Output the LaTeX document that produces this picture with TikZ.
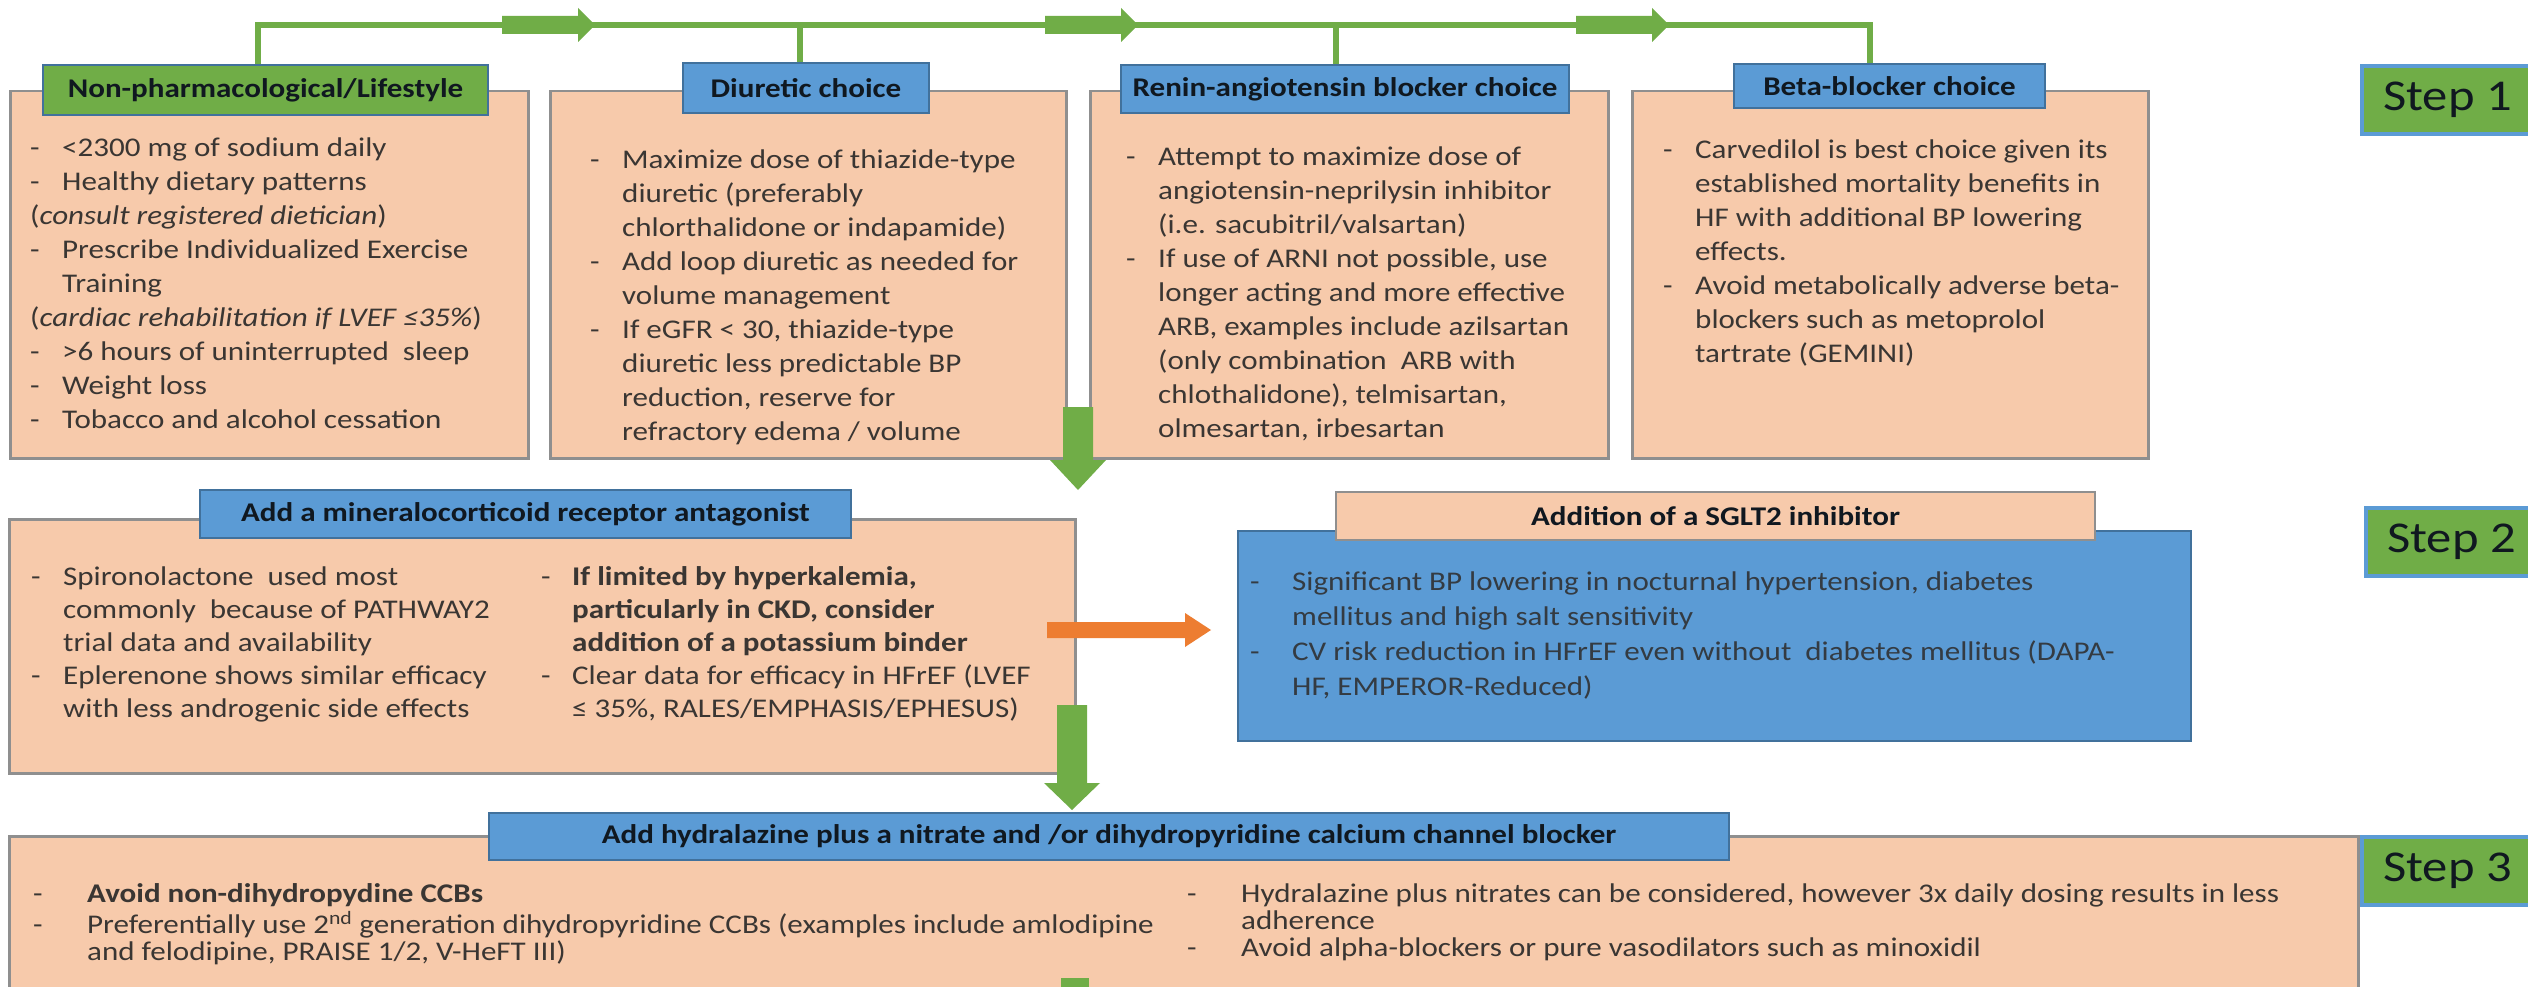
\documentclass[tikz,border=0pt]{standalone}
\usepackage{fontspec}
\setmainfont{Carlito}[FakeStretch=1.15]
\definecolor{peach}{HTML}{F7CAAB}
\definecolor{lblue}{HTML}{5B9BD5}
\definecolor{lbdark}{HTML}{41719C}
\definecolor{lgreen}{HTML}{70AD47}
\definecolor{orng}{HTML}{ED7D31}
\definecolor{bgray}{HTML}{8F8F8F}
\definecolor{txtc}{HTML}{3A3633}
\definecolor{labtxt}{HTML}{101820}
\newcommand{\dsh}[1][32pt]{\makebox[#1][l]{-}}
\newcommand{\ind}[1][32pt]{\hspace*{#1}}
\begin{document}
\begin{tikzpicture}[x=1pt,y=-1pt,
  pbox/.style={draw=bgray, line width=2.5pt, fill=peach, anchor=north west, inner sep=0pt},
  lab/.style={draw=lbdark, line width=1.2pt, fill=lblue, inner sep=0pt, font=\bfseries\fontsize{27}{30}\selectfont, text=labtxt},
  body/.style={anchor=north west, inner sep=0pt, align=left, text=txtc, font=\fontsize{27}{34}\selectfont},
  bodytwo/.style={body, font=\fontsize{27}{33}\selectfont},
  bodythree/.style={body, font=\fontsize{27}{27}\selectfont},
  gline/.style={draw=lgreen, line width=6pt},
  stepbox/.style={draw=lblue, line width=4pt, fill=lgreen, anchor=north west, inner sep=0pt, minimum width=200pt, minimum height=68pt},
  steptxt/.style={anchor=west, inner sep=0pt, font=\fontsize{44}{50}\selectfont, text=labtxt}
]
\useasboundingbox (0,0) rectangle (2528,987);
\fill[white] (0,0) rectangle (2528,987);

% ---------- Row 1 boxes ----------
\node[pbox, minimum width=518pt, minimum height=367pt] (boxA) at (9,90) {};
\node[pbox, minimum width=516pt, minimum height=367pt] (boxB) at (549,90) {};
\node[pbox, minimum width=518pt, minimum height=367pt] (boxC) at (1089,90) {};
\node[pbox, minimum width=516pt, minimum height=367pt] (boxD) at (1631,90) {};

\node[lab, fill=lgreen, minimum width=445pt, minimum height=50pt] (labA) at (265.5,90) {Non-pharmacological/Lifestyle};
\node[lab, minimum width=246pt, minimum height=50pt] (labB) at (806,88) {Diuretic choice};
\node[lab, minimum width=448pt, minimum height=48pt] (labC) at (1345,89) {Renin-angiotensin blocker choice};
\node[lab, minimum width=311pt, minimum height=44pt] (labD) at (1889.5,86) {Beta-blocker choice};

% ---------- top connector ----------
\coordinate (topy) at (0,25);
\coordinate (cA) at ([xshift=-8pt]labA.north);
\coordinate (cB) at ([xshift=-6pt]labB.north);
\coordinate (cC) at ([xshift=-9pt]labC.north);
\coordinate (cD) at ([xshift=-20pt]labD.north);
\draw[gline] (cA) -- (cA |- topy) -- (cD |- topy) -- (cD);
\draw[gline] (cB) -- (cB |- topy);
\draw[gline] (cC) -- (cC |- topy);
\foreach \xo/\nm in {502/ba1,1045/ba2,1576/ba3}{
  \coordinate (\nm) at (\xo,25);
  \fill[lgreen] (\xo,16) -- (\xo+76,16) -- (\xo+76,8) -- (\xo+93,25) -- (\xo+76,42) -- (\xo+76,34) -- (\xo,34) -- cycle;
}

% ---------- Row 1 texts ----------
\node[body] (tA) at (30,132) {\strut\dsh <2300 mg of sodium daily\\
\dsh Healthy dietary patterns\\
(\textit{consult registered dietician})\\
\dsh Prescribe Individualized Exercise\\
\ind Training\\
(\textit{cardiac rehabilitation if LVEF ≤35\%})\\
\dsh >6 hours of uninterrupted\ \ sleep\\
\dsh Weight loss\\
\dsh Tobacco and alcohol cessation};

\node[body] (tB) at (590,144) {\strut\dsh Maximize dose of thiazide-type\\
\ind diuretic (preferably\\
\ind chlorthalidone or indapamide)\\
\dsh Add loop diuretic as needed for\\
\ind volume management\\
\dsh If eGFR < 30, thiazide-type\\
\ind diuretic less predictable BP\\
\ind reduction, reserve for\\
\ind refractory edema / volume};

\node[body] (tC) at (1126,141) {\strut\dsh Attempt to maximize dose of\\
\ind angiotensin-neprilysin inhibitor\\
\ind (i.e. sacubitril/valsartan)\\
\dsh If use of ARNI not possible, use\\
\ind longer acting and more effective\\
\ind ARB, examples include azilsartan\\
\ind (only combination\ \ ARB with\\
\ind chlothalidone), telmisartan,\\
\ind olmesartan, irbesartan};

\node[body] (tD) at (1663,134) {\strut\dsh Carvedilol is best choice given its\\
\ind established mortality benefits in\\
\ind HF with additional BP lowering\\
\ind effects.\\
\dsh Avoid metabolically adverse beta-\\
\ind blockers such as metoprolol\\
\ind tartrate (GEMINI)};

% ---------- Row 2 ----------
\node[pbox, minimum width=1066pt, minimum height=254pt] (mra) at (8,518) {};
\node[lab, minimum width=651pt, minimum height=48pt] (labM) at (525.5,514) {Add a mineralocorticoid receptor antagonist};
\node[bodytwo] (tM1) at (31,562) {\strut\dsh Spironolactone\ \ used most\\
\ind commonly\ \ because of PATHWAY2\\
\ind trial data and availability\\
\dsh Eplerenone shows similar efficacy\\
\ind with less androgenic side effects};
\node[bodytwo] (tM2) at (541,562) {\strut\dsh[31pt]\textbf{If limited by hyperkalemia,}\\
\ind[31pt]\textbf{particularly in CKD, consider}\\
\ind[31pt]\textbf{addition of a potassium binder}\\
\dsh[31pt]Clear data for efficacy in HFrEF (LVEF\\
\ind[31pt]≤ 35\%, RALES/EMPHASIS/EPHESUS)};

\node[draw=lbdark, line width=1.5pt, fill=lblue, anchor=north west, inner sep=0pt, minimum width=953pt, minimum height=210pt] (sglt) at (1237,530) {};
\node[lab, fill=peach, draw=bgray, minimum width=759pt, minimum height=48pt] (labS) at (1715.5,516) {Addition of a SGLT2 inhibitor};
\node[body, font=\fontsize{27}{35}\selectfont, text=labtxt!85] (tS) at (1250,566) {\strut\dsh[42pt]Significant BP lowering in nocturnal hypertension, diabetes\\
\ind[42pt]mellitus and high salt sensitivity\\
\dsh[42pt]CV risk reduction in HFrEF even without\ \ diabetes mellitus (DAPA-\\
\ind[42pt]HF, EMPEROR-Reduced)};

% orange arrow MRA -> SGLT2
\coordinate (oa) at (1047,630);
\fill[orng] (1047,622) -- (1185,622) -- (1185,613) -- (1211,630) -- (1185,647) -- (1185,638) -- (1047,638) -- cycle;

% green arrow row 1 -> row 2
\coordinate (da1) at (1078,407);
\fill[lgreen] (1063,407) -- (1093,407) -- (1093,460) -- (1106,460) -- (1078,490) -- (1050,460) -- (1063,460) -- cycle;

% ---------- Row 3 ----------
\node[pbox, minimum width=2349pt, minimum height=200pt] (row3) at (8,835) {};
\node[lab, minimum width=1240pt, minimum height=47pt, font=\bfseries\fontsize{27}{30}\selectfont] (labR) at (1109,836.5) {Add hydralazine plus a nitrate and /or dihydropyridine calcium channel blocker};
\node[bodythree] (tR1) at (33,883) {\strut\dsh[54pt]\textbf{Avoid non-dihydropydine CCBs}\\
\dsh[54pt]Preferentially use 2\textsuperscript{nd} generation dihydropyridine CCBs (examples include amlodipine\\
\ind[54pt]and felodipine, PRAISE 1/2, V-HeFT III)};
\node[bodythree] (tR2) at (1187,883) {\strut\dsh[54pt]Hydralazine plus nitrates can be considered, however 3x daily dosing results in less\\
\ind[54pt]adherence\\
\dsh[54pt]Avoid alpha-blockers or pure vasodilators such as minoxidil};

% green arrow row 2 -> row 3
\coordinate (da2) at (1072,705);
\fill[lgreen] (1057,705) -- (1087,705) -- (1087,783) -- (1100,783) -- (1072,810) -- (1044,783) -- (1057,783) -- cycle;
% stub of next arrow at bottom edge
\coordinate (da3) at (1075,978);
\fill[lgreen] (1061,978) rectangle (1089,990);

% ---------- Steps ----------
\node[stepbox] (s1) at (2360,64) {};
\node[steptxt] (s1t) at ([xshift=23pt]s1.west) {Step 1};
\node[stepbox] (s2) at (2364,506) {};
\node[steptxt] (s2t) at ([xshift=23pt]s2.west) {Step 2};
\node[stepbox] (s3) at (2360,835) {};
\node[steptxt] (s3t) at ([xshift=23pt]s3.west) {Step 3};
\end{tikzpicture}
\end{document}
